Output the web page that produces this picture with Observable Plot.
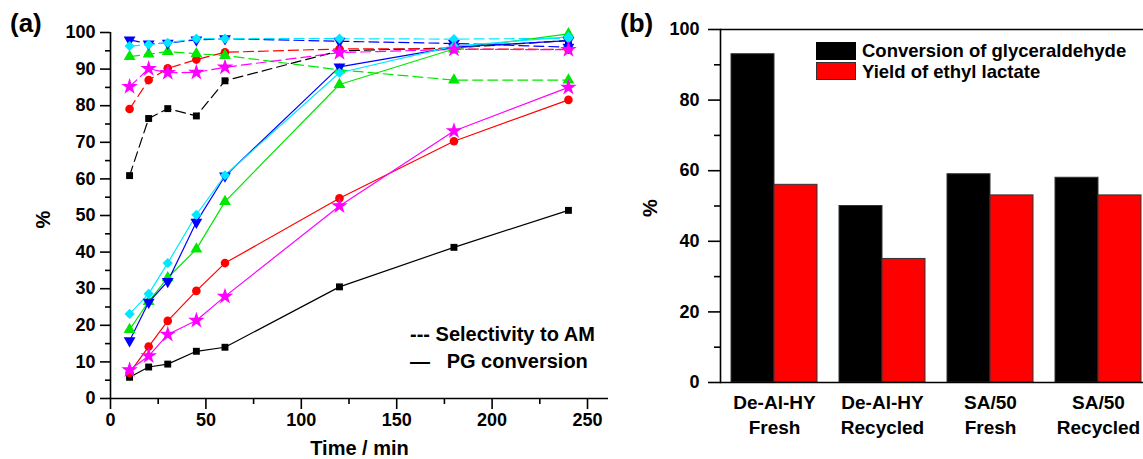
<!DOCTYPE html>
<html><head><meta charset="utf-8">
<script src="https://cdn.jsdelivr.net/npm/d3@7"></script>
<script src="https://cdn.jsdelivr.net/npm/@observablehq/plot@0.6"></script>
<style>
html,body{margin:0;padding:0;background:#fff;overflow:hidden}
#wrap{position:relative;width:1143px;height:459px;overflow:hidden;font-family:"Liberation Sans",Arial,sans-serif;font-weight:bold;color:#000;background:#fff}
.abs{position:absolute;white-space:pre;}
.abs svg{display:block;max-width:none !important;}
</style></head><body>
<div id="wrap">
  <div id="left" class="abs" style="left:0;top:0;width:620px"></div>
  <div id="right" class="abs" style="left:620px;top:0;width:540px"></div>
  <div class="abs" style="left:10px;top:10px;font-size:26px;line-height:26px">(a)</div>
  <div class="abs" style="left:620px;top:10px;font-size:26px;line-height:26px">(b)</div>
  <div class="abs" style="left:410px;top:321px;font-size:20px;line-height:27px">--- Selectivity to AM<br>—&nbsp;&nbsp; PG conversion</div>
  <div class="abs" style="left:816px;top:42px;width:40px;height:18px;background:#000"></div>
  <div class="abs" style="left:816px;top:62px;width:38px;height:16px;background:#f00;border:1px solid #333"></div>
  <div class="abs" style="left:862px;top:40px;font-size:18.5px;line-height:21px">Conversion of glyceraldehyde<br>Yield of ethyl lactate</div>
</div>
<script>
// ---- Panel (a) data ----
const times = [10, 20, 30, 45, 60, 120, 180, 240];
const seriesIds = ["s1", "s2", "s3", "s4", "s5", "s6"];

const conversionSquare   = [5.8, 8.6, 9.4, 12.9, 14.0, 30.5, 41.3, 51.4];
const conversionCircle   = [7.0, 14.2, 21.2, 29.4, 37.0, 54.7, 70.3, 81.6];
const conversionTriUp    = [18.8, 26.5, 33.0, 40.8, 53.8, 85.8, 95.5, 99.6];
const conversionTriDown  = [15.8, 26.3, 32.0, 48.2, 60.8, 90.6, 96.0, 97.8];
const conversionDiamond  = [23.1, 28.6, 37.0, 50.2, 61.0, 89.0, 96.3, 98.8];
const conversionStar     = [7.8, 11.6, 17.5, 21.3, 27.9, 52.6, 73.1, 85.0];

const selectivitySquare  = [60.9, 76.5, 79.2, 77.2, 86.8, 95.0, 95.8, 97.8];
const selectivityCircle  = [79.1, 87.0, 90.2, 92.6, 94.6, 95.5, 95.5, 95.4];
const selectivityTriUp   = [93.4, 94.1, 94.8, 94.2, 93.7, 89.8, 87.0, 87.0];
const selectivityTriDown = [98.0, 96.9, 97.1, 98.0, 98.3, 97.6, 97.0, 96.0];
const selectivityDiamond = [96.3, 96.7, 97.2, 98.3, 98.3, 98.3, 98.2, 98.4];
const selectivityStar    = [85.2, 90.1, 89.0, 89.1, 90.5, 94.5, 95.4, 95.3];

const xTicksMajor = [0, 50, 100, 150, 200, 250];
const xTicksMinor = [25, 75, 125, 175, 225];
const yTicksMajorA = [0, 10, 20, 30, 40, 50, 60, 70, 80, 90, 100];
const yTicksMinorA = [5, 15, 25, 35, 45, 55, 65, 75, 85, 95];

// ---- Panel (b) data ----
const catalysts = ["De-Al-HY\nFresh", "De-Al-HY\nRecycled", "SA/50\nFresh", "SA/50\nRecycled"];
const measures = ["Conversion of glyceraldehyde", "Yield of ethyl lactate"];
const conversionGlyceraldehyde = [93, 50, 59, 58];
const yieldEthylLactate = [56, 35, 53, 53];
const yTicksMajorB = [0, 20, 40, 60, 80, 100];
const yTicksMinorB = [10, 30, 50, 70, 90];

// ---- build tables ----
const convArrays = [conversionSquare, conversionCircle, conversionTriUp, conversionTriDown, conversionDiamond, conversionStar];
const selArrays = [selectivitySquare, selectivityCircle, selectivityTriUp, selectivityTriDown, selectivityDiamond, selectivityStar];
const rows = [];
seriesIds.forEach((id, k) => {
  times.forEach((t, i) => {
    rows.push({series: id, kind: "conversion", time: t, value: convArrays[k][i]});
    rows.push({series: id, kind: "selectivity", time: t, value: selArrays[k][i]});
  });
});

const colors = ["#000000", "#ff0000", "#00e800", "#0000ff", "#00e8ff", "#ff00ff"];
const triangleDown = {
  draw(context, size) {
    const s3 = Math.sqrt(3);
    const y = -Math.sqrt(size / (s3 * 3));
    context.moveTo(0, -y * 2);
    context.lineTo(-s3 * y, y);
    context.lineTo(s3 * y, y);
    context.closePath();
  }
};
const symbols = ["square", "circle", "triangle", triangleDown, "diamond2", "star"];
const radii = [3.9, 4.3, 4.4, 4.4, 4.6, 5.2];

const font = "'Liberation Sans', Arial, sans-serif";

const dotMarks = seriesIds.map((id, k) =>
  Plot.dot(rows.filter(d => d.series === id), {
    x: "time", y: "value", symbol: symbols[k], r: radii[k], fill: colors[k], stroke: "none"
  })
);

const chartA = Plot.plot({
  width: 620, height: 459,
  marginLeft: 110, marginRight: 12, marginTop: 32, marginBottom: 61,
  style: {fontFamily: font, fontWeight: "bold", background: "white", color: "black", overflow: "visible"},
  x: {domain: [0, 261]},
  y: {domain: [0, 100]},
  color: {domain: seriesIds, range: colors},
  marks: [
    Plot.ruleY([0], {strokeWidth: 1.6}),
    Plot.ruleX([0], {strokeWidth: 1.6}),
    Plot.axisX({ticks: xTicksMajor, tickSize: 11, tickPadding: 4, fontSize: 18, label: null, strokeWidth: 1.6}),
    Plot.axisX({ticks: xTicksMinor, tickSize: 6, tickFormat: () => "", label: null, strokeWidth: 1.6}),
    Plot.axisY({ticks: yTicksMajorA, tickSize: 10, tickPadding: 5, fontSize: 18, label: null, strokeWidth: 1.6}),
    Plot.axisY({ticks: yTicksMinorA, tickSize: 5, tickFormat: () => "", label: null, strokeWidth: 1.6}),
    Plot.text(["Time / min"], {frameAnchor: "bottom", dy: 50, fontSize: 20, lineAnchor: "middle"}),
    Plot.text(["%"], {frameAnchor: "left", dx: -67, dy: 13, rotate: -90, fontSize: 20, lineAnchor: "middle"}),
    Plot.line(rows.filter(d => d.kind === "selectivity"), {x: "time", y: "value", z: "series", stroke: "series", strokeWidth: 1.2, strokeDasharray: "10,5"}),
    Plot.line(rows.filter(d => d.kind === "conversion"), {x: "time", y: "value", z: "series", stroke: "series", strokeWidth: 1.2}),
    ...dotMarks
  ]
});
document.getElementById("left").appendChild(chartA);

// ---- Panel (b) ----
const bars = [];
catalysts.forEach((c, i) => {
  bars.push({catalyst: c, measure: measures[0], value: conversionGlyceraldehyde[i]});
  bars.push({catalyst: c, measure: measures[1], value: yieldEthylLactate[i]});
});

const chartB = Plot.plot({
  width: 540, height: 459,
  marginLeft: 99, marginRight: 8, marginTop: 29, marginBottom: 77,
  style: {fontFamily: font, fontWeight: "bold", background: "white", color: "black", overflow: "visible"},
  fx: {domain: catalysts, padding: 0, label: null},
  x: {domain: measures, paddingInner: 0, paddingOuter: 0.25, axis: null},
  y: {domain: [0, 100]},
  color: {domain: measures, range: ["#000000", "#ff0000"]},
  marks: [
    Plot.barY(bars, {fx: "catalyst", x: "measure", y: "value", fill: "measure", stroke: "#333", strokeWidth: 1}),
    Plot.ruleY([0], {strokeWidth: 1.6}),
    Plot.ruleY([100], {strokeWidth: 1.6}),
    Plot.frame({anchor: "left", facetAnchor: "left", strokeWidth: 1.6}),
    Plot.axisY({ticks: yTicksMajorB, tickSize: 12, tickPadding: 9, fontSize: 18, label: null, strokeWidth: 1.6}),
    Plot.axisY({ticks: yTicksMinorB, tickSize: 6, tickFormat: () => "", label: null, strokeWidth: 1.6}),
    Plot.axisFx({anchor: "bottom", tickSize: 0, tickPadding: 9, fontSize: 19, lineHeight: 1.3, label: null}),
    Plot.text(["%"], {frameAnchor: "left", facetAnchor: "left", dx: -70, dy: 11, rotate: -90, fontSize: 20, lineAnchor: "middle"})
  ]
});
document.getElementById("right").appendChild(chartB);
</script>
</body></html>
